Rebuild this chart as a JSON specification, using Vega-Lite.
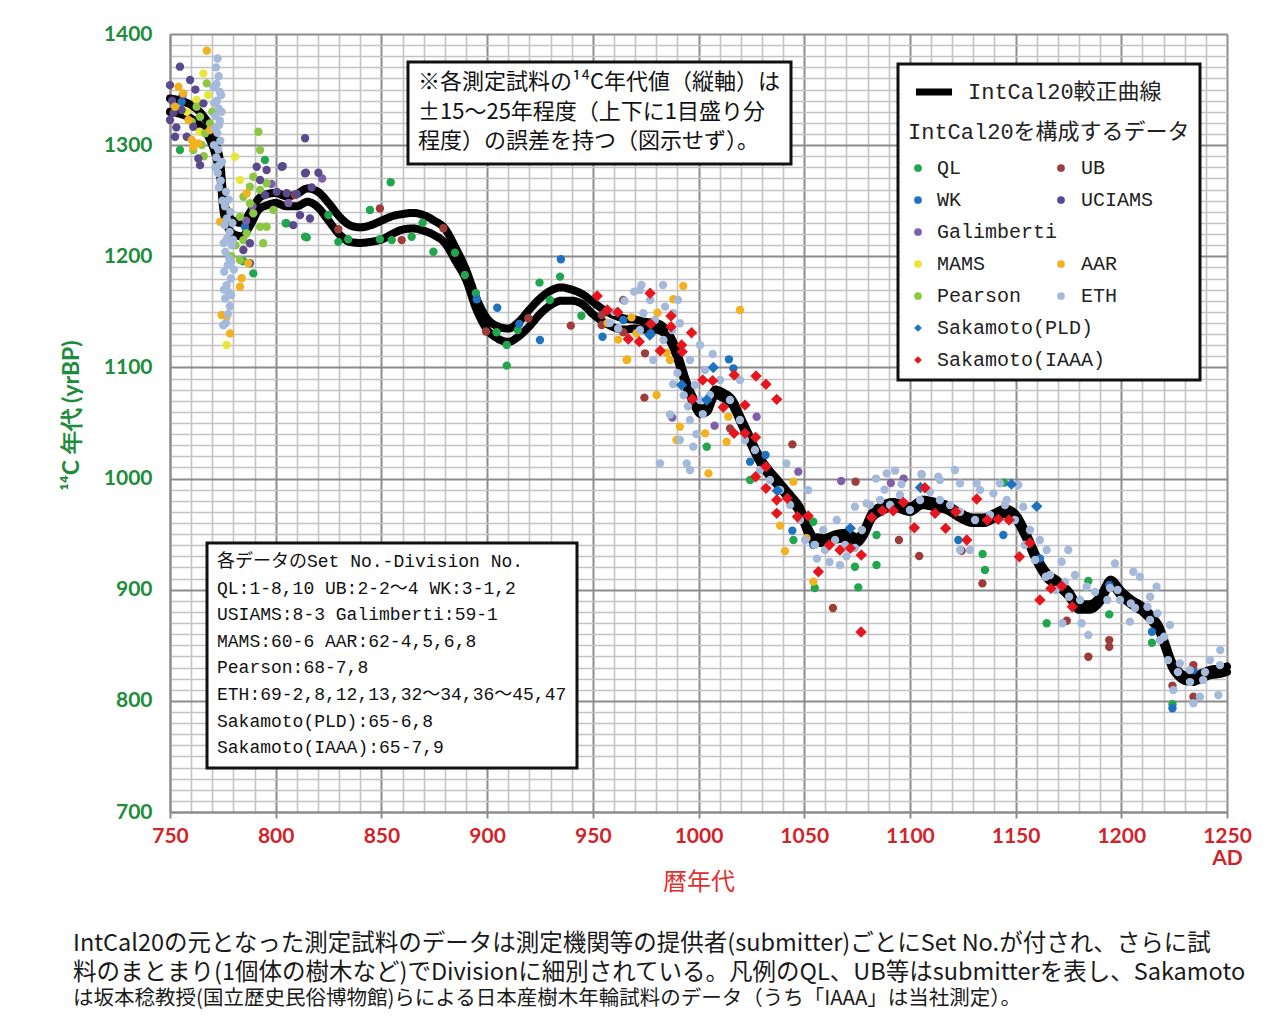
{
  "$schema": "https://vega.github.io/schema/vega-lite/v6.json",
  "width": 1057,
  "height": 778,
  "autosize": "none",
  "padding": {"left": 170, "top": 34, "right": 54, "bottom": 214},
  "background": "white",
  "title": {
    "text": [
      "IntCal20の元となった測定試料のデータは測定機関等の提供者(submitter)ごとにSet No.が付され、さらに試",
      "料のまとまり(1個体の樹木など)でDivisionに細別されている。凡例のQL、UB等はsubmitterを表し、Sakamoto"
    ],
    "subtitle": "は坂本稔教授(国立歴史民俗博物館)らによる日本産樹木年輪試料のデータ（うち「IAAA」は当社測定）。",
    "orient": "bottom", "anchor": "start", "frame": "group", "dx": -97, "offset": 38,
    "font": "Noto Sans CJK JP", "fontSize": 23.5, "fontWeight": "normal", "color": "#1a1a1a", "lineHeight": 29,
    "subtitleFont": "Noto Sans CJK JP", "subtitleFontSize": 20.5, "subtitleColor": "#1a1a1a", "subtitlePadding": 4, "subtitleLineHeight": 29
  },
  "datasets": {
    "curve": [
      {"x":750,"hi":1342,"lo":1330},{"x":755,"hi":1340,"lo":1328},{"x":760,"hi":1336,"lo":1324},{"x":765,"hi":1328,"lo":1316},
      {"x":770,"hi":1312,"lo":1300},{"x":772,"hi":1300,"lo":1288},{"x":774,"hi":1280,"lo":1268},{"x":775,"hi":1258,"lo":1246},
      {"x":777,"hi":1240,"lo":1228},{"x":780,"hi":1232,"lo":1220},{"x":784,"hi":1230,"lo":1218},{"x":788,"hi":1240,"lo":1228},
      {"x":792,"hi":1252,"lo":1242},{"x":796,"hi":1256,"lo":1246},{"x":800,"hi":1257,"lo":1248},{"x":805,"hi":1254,"lo":1245},
      {"x":810,"hi":1256,"lo":1245},{"x":815,"hi":1261,"lo":1249},{"x":820,"hi":1258,"lo":1244},{"x":825,"hi":1248,"lo":1232},
      {"x":830,"hi":1236,"lo":1220},{"x":835,"hi":1228,"lo":1213},{"x":840,"hi":1226,"lo":1212},{"x":845,"hi":1228,"lo":1213},
      {"x":850,"hi":1232,"lo":1215},{"x":855,"hi":1236,"lo":1220},{"x":860,"hi":1238,"lo":1224},{"x":865,"hi":1239,"lo":1225},
      {"x":870,"hi":1237,"lo":1223},{"x":875,"hi":1232,"lo":1219},{"x":880,"hi":1225,"lo":1212},{"x":885,"hi":1208,"lo":1196},
      {"x":890,"hi":1188,"lo":1179},{"x":895,"hi":1162,"lo":1152},{"x":900,"hi":1144,"lo":1134},{"x":905,"hi":1137,"lo":1126},
      {"x":910,"hi":1135,"lo":1123},{"x":915,"hi":1141,"lo":1128},{"x":920,"hi":1152,"lo":1137},{"x":925,"hi":1162,"lo":1148},
      {"x":930,"hi":1169,"lo":1156},{"x":935,"hi":1172,"lo":1160},{"x":940,"hi":1170,"lo":1160},{"x":945,"hi":1166,"lo":1157},
      {"x":950,"hi":1159,"lo":1148},{"x":955,"hi":1152,"lo":1141},{"x":960,"hi":1147,"lo":1136},{"x":965,"hi":1144,"lo":1134},
      {"x":970,"hi":1143,"lo":1135},{"x":975,"hi":1141,"lo":1134},{"x":980,"hi":1140,"lo":1134},{"x":985,"hi":1133,"lo":1128},
      {"x":988,"hi":1123,"lo":1118},{"x":991,"hi":1107,"lo":1102},{"x":994,"hi":1089,"lo":1084},{"x":998,"hi":1071,"lo":1066},
      {"x":1001,"hi":1063,"lo":1058},{"x":1004,"hi":1065,"lo":1060},{"x":1008,"hi":1080,"lo":1075},{"x":1012,"hi":1077,"lo":1072},
      {"x":1016,"hi":1071,"lo":1066},{"x":1020,"hi":1055,"lo":1050},{"x":1024,"hi":1039,"lo":1034},{"x":1028,"hi":1023,"lo":1018},
      {"x":1032,"hi":1011,"lo":1006},{"x":1036,"hi":1002,"lo":997},{"x":1040,"hi":993,"lo":988},{"x":1044,"hi":984,"lo":979},
      {"x":1048,"hi":974,"lo":969},{"x":1052,"hi":955,"lo":950},{"x":1055,"hi":947,"lo":942},{"x":1060,"hi":947,"lo":942},
      {"x":1065,"hi":950,"lo":945},{"x":1070,"hi":951,"lo":946},{"x":1075,"hi":947,"lo":942},{"x":1078,"hi":953,"lo":948},
      {"x":1082,"hi":969,"lo":964},{"x":1086,"hi":975,"lo":970},{"x":1092,"hi":979,"lo":974},{"x":1100,"hi":975,"lo":970},
      {"x":1106,"hi":981,"lo":976},{"x":1112,"hi":979,"lo":974},{"x":1118,"hi":976,"lo":971},{"x":1124,"hi":969,"lo":964},
      {"x":1130,"hi":965,"lo":960},{"x":1135,"hi":965,"lo":960},{"x":1140,"hi":969,"lo":964},{"x":1145,"hi":973,"lo":968},
      {"x":1150,"hi":968,"lo":963},{"x":1155,"hi":951,"lo":946},{"x":1160,"hi":930,"lo":925},{"x":1165,"hi":915,"lo":910},
      {"x":1170,"hi":908,"lo":903},{"x":1175,"hi":899,"lo":894},{"x":1180,"hi":887,"lo":882},{"x":1185,"hi":887,"lo":882},
      {"x":1190,"hi":894,"lo":889},{"x":1195,"hi":909,"lo":904},{"x":1200,"hi":899,"lo":894},{"x":1205,"hi":891,"lo":886},
      {"x":1210,"hi":885,"lo":880},{"x":1215,"hi":875,"lo":870},{"x":1218,"hi":867,"lo":862},{"x":1221,"hi":851,"lo":846},
      {"x":1224,"hi":835,"lo":830},{"x":1227,"hi":827,"lo":822},{"x":1230,"hi":823,"lo":818},{"x":1234,"hi":822,"lo":817},
      {"x":1238,"hi":825,"lo":820},{"x":1242,"hi":828,"lo":823},{"x":1246,"hi":829,"lo":824},{"x":1250,"hi":831,"lo":826}
    ],
    "pts": [
      {"s":"QL","x":754.7,"y":1295.6},{"s":"QL","x":794.9,"y":1286.6},{"s":"QL","x":789.4,"y":1184.6},{"s":"QL","x":784.7,"y":1195.6},
      {"s":"QL","x":805.1,"y":1229.7},{"s":"QL","x":813.9,"y":1217.6},{"s":"QL","x":854.4,"y":1266.6},{"s":"QL","x":844.6,"y":1241.6},
      {"s":"QL","x":829.6,"y":1213},{"s":"QL","x":834.3,"y":1215.3},{"s":"QL","x":849.3,"y":1215.3},{"s":"QL","x":854.9,"y":1214.6},
      {"s":"QL","x":864.3,"y":1217.6},{"s":"QL","x":824.9,"y":1237.1},{"s":"QL","x":814.7,"y":1217},{"s":"QL","x":804.7,"y":1229.7},
      {"s":"QL","x":869.5,"y":1230.2},{"s":"QL","x":874.6,"y":1204.1},{"s":"QL","x":884.8,"y":1203.2},{"s":"QL","x":889.5,"y":1183.2},
      {"s":"QL","x":894.7,"y":1166.7},{"s":"QL","x":904.5,"y":1131.6},{"s":"QL","x":909.3,"y":1120.2},{"s":"QL","x":909.3,"y":1101.6},
      {"s":"QL","x":914.5,"y":1133.6},{"s":"QL","x":924.8,"y":1176.3},{"s":"QL","x":929.7,"y":1160.7},{"s":"QL","x":934.5,"y":1181.7},
      {"s":"QL","x":944.6,"y":1146.5},{"s":"QL","x":1003.9,"y":1028.7},{"s":"QL","x":1024.4,"y":998.7},{"s":"QL","x":1044.9,"y":944.7},
      {"s":"QL","x":1054.3,"y":961.2},{"s":"QL","x":1074,"y":920.7},{"s":"QL","x":1075.6,"y":902.1},{"s":"QL","x":1084.2,"y":949.2},
      {"s":"QL","x":1084.2,"y":922.2},{"s":"QL","x":1134.4,"y":932.1},{"s":"QL","x":1135.5,"y":917.7},{"s":"QL","x":1144.5,"y":996.3},
      {"s":"QL","x":1164.7,"y":869.8},{"s":"QL","x":1184.4,"y":907.8},{"s":"QL","x":1194.3,"y":877.8},{"s":"QL","x":1214.5,"y":852.3},
      {"s":"QL","x":1224.2,"y":797},{"s":"QL","x":1055,"y":901.5},
      {"s":"UB","x":809.1,"y":1255.1},{"s":"UB","x":829.6,"y":1224.3},{"s":"UB","x":849.3,"y":1243},{"s":"UB","x":859.6,"y":1214.6},
      {"s":"UB","x":879.3,"y":1225.2},{"s":"UB","x":899.5,"y":1132.3},{"s":"UB","x":919.5,"y":1144.2},{"s":"UB","x":939.6,"y":1137.6},
      {"s":"UB","x":954.2,"y":1147.2},{"s":"UB","x":964.4,"y":1160.7},{"s":"UB","x":954.2,"y":1138.2},{"s":"UB","x":964.4,"y":1131.6},
      {"s":"UB","x":974.7,"y":1112.7},{"s":"UB","x":974.4,"y":1072.8},{"s":"UB","x":1014.9,"y":1045.2},{"s":"UB","x":1044.4,"y":1030.8},
      {"s":"UB","x":1094.8,"y":944.7},{"s":"UB","x":1104.4,"y":930.3},{"s":"UB","x":1074.3,"y":997.2},{"s":"UB","x":1063.6,"y":883.5},
      {"s":"UB","x":1124.5,"y":935.1},{"s":"UB","x":1134.3,"y":905.7},{"s":"UB","x":1174.2,"y":872.1},{"s":"UB","x":1184.4,"y":839.7},
      {"s":"UB","x":1194.3,"y":854.7},{"s":"UB","x":1194.3,"y":848.7},{"s":"UB","x":1224.2,"y":813.7},{"s":"UB","x":1234.1,"y":832.2},
      {"s":"UB","x":1234.1,"y":803.7},
      {"s":"WK","x":895.1,"y":1161.3},{"s":"WK","x":904.8,"y":1153.7},{"s":"WK","x":915.2,"y":1139.1},{"s":"WK","x":925,"y":1124.7},
      {"s":"WK","x":934.9,"y":1197.3},{"s":"WK","x":954.6,"y":1127.6},{"s":"WK","x":964.4,"y":1142.7},{"s":"WK","x":977.4,"y":1130.7},
      {"s":"WK","x":1014.4,"y":1107.3},{"s":"WK","x":1016.5,"y":1099.2},{"s":"WK","x":1031.7,"y":1021.2},{"s":"WK","x":1024.4,"y":1015.2},
      {"s":"WK","x":1044.4,"y":953.2},{"s":"WK","x":1054.3,"y":940.2},{"s":"WK","x":1144.2,"y":949.2},{"s":"WK","x":1161.5,"y":928.2},
      {"s":"WK","x":1194.3,"y":904.2},{"s":"WK","x":1214.5,"y":862.2},{"s":"WK","x":1224.2,"y":793.3},{"s":"WK","x":1234.1,"y":827.7},
      {"s":"WK","x":755.5,"y":1339},{"s":"WK","x":785.5,"y":1226.6},{"s":"WK","x":1122.9,"y":944.7},
      {"s":"UCIAMS","x":754.7,"y":1370.6},{"s":"UCIAMS","x":750,"y":1354},{"s":"UCIAMS","x":751.6,"y":1329},{"s":"UCIAMS","x":750,"y":1322.6},
      {"s":"UCIAMS","x":752.4,"y":1307.6},{"s":"UCIAMS","x":757.9,"y":1307.6},{"s":"UCIAMS","x":763.4,"y":1288},{"s":"UCIAMS","x":764.2,"y":1282},
      {"s":"UCIAMS","x":761,"y":1316.6},{"s":"UCIAMS","x":755.5,"y":1331.6},{"s":"UCIAMS","x":759.5,"y":1358.6},{"s":"UCIAMS","x":765.8,"y":1337.6},
      {"s":"UCIAMS","x":791,"y":1280.6},{"s":"UCIAMS","x":795.7,"y":1277.6},{"s":"UCIAMS","x":802.8,"y":1280.6},{"s":"UCIAMS","x":813.9,"y":1306.2},
      {"s":"UCIAMS","x":813.9,"y":1274.7},{"s":"UCIAMS","x":792.6,"y":1268.6},{"s":"UCIAMS","x":787.8,"y":1211.7},{"s":"UCIAMS","x":784.7,"y":1205.7},
      {"s":"UCIAMS","x":787.8,"y":1193.7},{"s":"UCIAMS","x":803.3,"y":1281},{"s":"UCIAMS","x":814.3,"y":1275.2},{"s":"UCIAMS","x":820.2,"y":1275.2},
      {"s":"UCIAMS","x":808.3,"y":1228},{"s":"UCIAMS","x":816.2,"y":1234},{"s":"UCIAMS","x":811.5,"y":1237},{"s":"UCIAMS","x":805.2,"y":1256.7},
      {"s":"UCIAMS","x":800.5,"y":1258},{"s":"UCIAMS","x":810,"y":1256},{"s":"UCIAMS","x":817,"y":1262},{"s":"UCIAMS","x":795,"y":1255},
      {"s":"UCIAMS","x":751,"y":1340},{"s":"UCIAMS","x":753,"y":1316},{"s":"UCIAMS","x":756,"y":1345},{"s":"UCIAMS","x":762,"y":1350},
      {"s":"Galimberti","x":987.6,"y":1054.8},{"s":"Galimberti","x":1007.6,"y":1047.6},{"s":"Galimberti","x":1027.5,"y":1055.6},{"s":"Galimberti","x":1047.2,"y":1006.2},
      {"s":"Galimberti","x":1067.5,"y":997.8},{"s":"Galimberti","x":798,"y":1265},{"s":"Galimberti","x":806,"y":1248},{"s":"Galimberti","x":822,"y":1270},
      {"s":"Galimberti","x":789,"y":1245},{"s":"Galimberti","x":786,"y":1232},{"s":"Galimberti","x":1097,"y":1000},{"s":"Galimberti","x":1091,"y":996},
      {"s":"MAMS","x":765.8,"y":1364.6},{"s":"MAMS","x":762.6,"y":1340.6},{"s":"MAMS","x":780.7,"y":1289.6},{"s":"MAMS","x":783.1,"y":1268.6},
      {"s":"MAMS","x":776.8,"y":1120.2},{"s":"MAMS","x":758,"y":1330},{"s":"MAMS","x":764,"y":1312},{"s":"MAMS","x":768,"y":1345},
      {"s":"AAR","x":767.4,"y":1385},{"s":"AAR","x":754,"y":1352.6},{"s":"AAR","x":756.3,"y":1346.6},{"s":"AAR","x":752.4,"y":1334.6},
      {"s":"AAR","x":758.7,"y":1322.6},{"s":"AAR","x":760.3,"y":1304.6},{"s":"AAR","x":763.4,"y":1301.6},{"s":"AAR","x":768.9,"y":1313.6},
      {"s":"AAR","x":761,"y":1298.6},{"s":"AAR","x":786.3,"y":1256.7},{"s":"AAR","x":787,"y":1193.7},{"s":"AAR","x":783.9,"y":1180.2},
      {"s":"AAR","x":783.1,"y":1172.6},{"s":"AAR","x":774.4,"y":1147.2},{"s":"AAR","x":776.8,"y":1145.6},{"s":"AAR","x":778.4,"y":1130.6},
      {"s":"AAR","x":773.7,"y":1231},{"s":"AAR","x":992.8,"y":1173.3},{"s":"AAR","x":988.1,"y":1161.3},{"s":"AAR","x":968.3,"y":1145},
      {"s":"AAR","x":966.3,"y":1107.1},{"s":"AAR","x":970.7,"y":1130.7},{"s":"AAR","x":980.6,"y":1149.2},{"s":"AAR","x":985,"y":1113.2},
      {"s":"AAR","x":986.5,"y":1106.7},{"s":"AAR","x":966,"y":1106.7},{"s":"AAR","x":980.2,"y":1075.2},{"s":"AAR","x":991.2,"y":1046.7},
      {"s":"AAR","x":1003.1,"y":1040.7},{"s":"AAR","x":1004.7,"y":1004.7},{"s":"AAR","x":1013.3,"y":1033.2},{"s":"AAR","x":1014.1,"y":1055.6},
      {"s":"AAR","x":1019.6,"y":1151.7},{"s":"AAR","x":989.6,"y":1034.7},{"s":"AAR","x":1044.9,"y":997.2},{"s":"AAR","x":1038.6,"y":957.7},
      {"s":"AAR","x":1040.9,"y":934.7},{"s":"AAR","x":1051.1,"y":946.3},{"s":"AAR","x":1054.3,"y":907.3},{"s":"AAR","x":957,"y":1140},
      {"s":"AAR","x":962,"y":1125},
      {"s":"Pearson","x":767.4,"y":1355.6},{"s":"Pearson","x":762.6,"y":1334.6},{"s":"Pearson","x":764.2,"y":1325.6},{"s":"Pearson","x":760.3,"y":1321},
      {"s":"Pearson","x":768.9,"y":1319.6},{"s":"Pearson","x":766.6,"y":1310.6},{"s":"Pearson","x":765,"y":1300.1},{"s":"Pearson","x":761,"y":1295.6},
      {"s":"Pearson","x":791.8,"y":1312},{"s":"Pearson","x":792.6,"y":1295.6},{"s":"Pearson","x":789.4,"y":1271.6},{"s":"Pearson","x":787.8,"y":1262.6},
      {"s":"Pearson","x":784.7,"y":1253.6},{"s":"Pearson","x":792.6,"y":1259.6},{"s":"Pearson","x":795.7,"y":1265.7},{"s":"Pearson","x":798.9,"y":1241.6},
      {"s":"Pearson","x":792.6,"y":1226.6},{"s":"Pearson","x":795.7,"y":1226.6},{"s":"Pearson","x":794.1,"y":1211.7},{"s":"Pearson","x":786.3,"y":1220.7},
      {"s":"Pearson","x":784.7,"y":1214.6},{"s":"Pearson","x":783.1,"y":1196.6},{"s":"Pearson","x":787.8,"y":1247.7},{"s":"Pearson","x":789.4,"y":1238.7},
      {"s":"Pearson","x":783.1,"y":1235.6},{"s":"Pearson","x":770,"y":1330},{"s":"Pearson","x":766,"y":1290},{"s":"Pearson","x":779,"y":1200},
      {"s":"Pearson","x":781,"y":1210},
      {"s":"ETH","x":772.5,"y":1378},{"s":"ETH","x":771.8,"y":1370},{"s":"ETH","x":773,"y":1362},{"s":"ETH","x":772,"y":1355},
      {"s":"ETH","x":773.5,"y":1348},{"s":"ETH","x":772.2,"y":1340},{"s":"ETH","x":773,"y":1333},{"s":"ETH","x":771.5,"y":1326},
      {"s":"ETH","x":773.2,"y":1318},{"s":"ETH","x":772.4,"y":1311},{"s":"ETH","x":773.8,"y":1304},{"s":"ETH","x":772.8,"y":1296},
      {"s":"ETH","x":771.9,"y":1289},{"s":"ETH","x":773.4,"y":1282},{"s":"ETH","x":772.6,"y":1275},{"s":"ETH","x":774,"y":1268},
      {"s":"ETH","x":773.1,"y":1262},{"s":"ETH","x":770.6,"y":1352},{"s":"ETH","x":774.4,"y":1330},{"s":"ETH","x":770.8,"y":1300},
      {"s":"ETH","x":774.6,"y":1285},{"s":"ETH","x":771.2,"y":1315},{"s":"ETH","x":774.2,"y":1345},{"s":"ETH","x":770.9,"y":1338},
      {"s":"ETH","x":773.6,"y":1322},{"s":"ETH","x":771.4,"y":1280},
      {"s":"ETH","x":776.5,"y":1258},{"s":"ETH","x":777.8,"y":1251},{"s":"ETH","x":776,"y":1245},{"s":"ETH","x":778.6,"y":1240},
      {"s":"ETH","x":776.9,"y":1234},{"s":"ETH","x":775.8,"y":1228},{"s":"ETH","x":778.2,"y":1222},{"s":"ETH","x":777,"y":1216},
      {"s":"ETH","x":779.2,"y":1210},{"s":"ETH","x":776.2,"y":1204},{"s":"ETH","x":778,"y":1198},{"s":"ETH","x":777.3,"y":1192},
      {"s":"ETH","x":775.6,"y":1186},{"s":"ETH","x":778.8,"y":1180},{"s":"ETH","x":776.8,"y":1174},{"s":"ETH","x":777.6,"y":1168},
      {"s":"ETH","x":776.1,"y":1162},{"s":"ETH","x":778.3,"y":1155},{"s":"ETH","x":777.4,"y":1148},{"s":"ETH","x":776.5,"y":1140},
      {"s":"ETH","x":775.2,"y":1138},{"s":"ETH","x":779.5,"y":1230},{"s":"ETH","x":775.4,"y":1212},{"s":"ETH","x":779,"y":1195},
      {"s":"ETH","x":775.5,"y":1170},{"s":"ETH","x":778.9,"y":1165},{"s":"ETH","x":774.8,"y":1250},{"s":"ETH","x":779.8,"y":1215},
      {"s":"ETH","x":780.2,"y":1188},
      {"s":"ETH","x":973,"y":1174.2},{"s":"ETH","x":969.5,"y":1168.2},{"s":"ETH","x":973.9,"y":1148.7},{"s":"ETH","x":984.2,"y":1154.7},
      {"s":"ETH","x":988.1,"y":1148.7},{"s":"ETH","x":991.2,"y":1139.7},{"s":"ETH","x":1006.7,"y":1112.1},{"s":"ETH","x":978.6,"y":1106.7},
      {"s":"ETH","x":983.4,"y":1124.7},{"s":"ETH","x":972.3,"y":1169.7},{"s":"ETH","x":977.1,"y":1160.7},{"s":"ETH","x":979.4,"y":1142.7},
      {"s":"ETH","x":987.5,"y":1133.7},{"s":"ETH","x":990.3,"y":1160.7},{"s":"ETH","x":983.2,"y":1174.2},{"s":"ETH","x":972.3,"y":1133.7},
      {"s":"ETH","x":996,"y":1106.7},{"s":"ETH","x":1000.7,"y":1120.2},{"s":"ETH","x":1003.1,"y":1097.7},{"s":"ETH","x":996,"y":1007.7},
      {"s":"ETH","x":994.4,"y":1013.7},{"s":"ETH","x":986.5,"y":1057.6},{"s":"ETH","x":997.5,"y":1028.7},{"s":"ETH","x":1019.6,"y":1088.7},
      {"s":"ETH","x":981.8,"y":1013.7},{"s":"ETH","x":960,"y":1150},{"s":"ETH","x":965,"y":1160},{"s":"ETH","x":990,"y":1095},
      {"s":"ETH","x":993,"y":1075},{"s":"ETH","x":995,"y":1065},{"s":"ETH","x":988,"y":1085},{"s":"ETH","x":999,"y":1040},
      {"s":"ETH","x":1002,"y":1058},{"s":"ETH","x":958,"y":1140},{"s":"ETH","x":962,"y":1135},
      {"s":"ETH","x":1041.6,"y":1013.7},{"s":"ETH","x":1051.9,"y":989.6},{"s":"ETH","x":1074,"y":974.7},{"s":"ETH","x":1079.5,"y":977.7},
      {"s":"ETH","x":1089,"y":1004.7},{"s":"ETH","x":1093,"y":1007.1},{"s":"ETH","x":1105.5,"y":1004.1},{"s":"ETH","x":1113.4,"y":1001.7},
      {"s":"ETH","x":1066.9,"y":922.2},{"s":"ETH","x":1059,"y":953.7},{"s":"ETH","x":1065.4,"y":962.7},
      {"s":"ETH","x":991.2,"y":1034.7},{"s":"ETH","x":995.9,"y":1052.7},{"s":"ETH","x":1000.7,"y":1070.7},{"s":"ETH","x":998.3,"y":1084.2},
      {"s":"ETH","x":1005.4,"y":1075.2},{"s":"ETH","x":1010.2,"y":1088.7},{"s":"ETH","x":1014.9,"y":1070.7},{"s":"ETH","x":1019.6,"y":1052.7},
      {"s":"ETH","x":1022,"y":1034.7},{"s":"ETH","x":1026.7,"y":1025.7},{"s":"ETH","x":1029.1,"y":1007.7},{"s":"ETH","x":1033.8,"y":998.7},
      {"s":"ETH","x":1038.6,"y":989.7},{"s":"ETH","x":1043.3,"y":976.2},{"s":"ETH","x":1048,"y":962.7},{"s":"ETH","x":1050.4,"y":944.7},
      {"s":"ETH","x":1055.1,"y":940.2},{"s":"ETH","x":1059.8,"y":935.7},{"s":"ETH","x":1064.6,"y":944.7},{"s":"ETH","x":1069.3,"y":940.2},
      {"s":"ETH","x":1074,"y":937.5},{"s":"ETH","x":1077.3,"y":953.7},{"s":"ETH","x":1081.1,"y":976.2},{"s":"ETH","x":1085.9,"y":980.7},
      {"s":"ETH","x":1090.6,"y":976.2},{"s":"ETH","x":1095.3,"y":985.2},{"s":"ETH","x":1100,"y":971.7},{"s":"ETH","x":1104.8,"y":980.7},
      {"s":"ETH","x":1109.5,"y":987.9},{"s":"ETH","x":1114.2,"y":980.7},{"s":"ETH","x":1119,"y":976.2},{"s":"ETH","x":1123.7,"y":970.1},
      {"s":"ETH","x":1130.8,"y":962.7},{"s":"ETH","x":1137.9,"y":967.2},{"s":"ETH","x":1145,"y":976.2},{"s":"ETH","x":1149.7,"y":962.7},
      {"s":"ETH","x":1154.4,"y":940.2},{"s":"ETH","x":1159.2,"y":926.7},{"s":"ETH","x":1166.3,"y":913.2},{"s":"ETH","x":1173.4,"y":906.9},
      {"s":"ETH","x":1180.5,"y":890.7},{"s":"ETH","x":1187.6,"y":897.9},{"s":"ETH","x":1194.7,"y":901.5},{"s":"ETH","x":1199.4,"y":890.7},
      {"s":"ETH","x":1206.5,"y":883.5},{"s":"ETH","x":1213.6,"y":872.7},{"s":"ETH","x":1218.3,"y":854.7},{"s":"ETH","x":1222.1,"y":836.7},
      {"s":"ETH","x":1226.8,"y":825.9},{"s":"ETH","x":1232.5,"y":816.9},{"s":"ETH","x":1239.6,"y":825.9},{"s":"ETH","x":1246.7,"y":832.2},
      {"s":"ETH","x":1105.6,"y":1003.2},{"s":"ETH","x":1121.3,"y":1007.7},{"s":"ETH","x":1131.6,"y":995.7},{"s":"ETH","x":1142.6,"y":995.7},
      {"s":"ETH","x":1151.3,"y":994.2},{"s":"ETH","x":1153.6,"y":974.7},{"s":"ETH","x":1156.8,"y":953.7},{"s":"ETH","x":1161.5,"y":944.7},
      {"s":"ETH","x":1164.7,"y":935.7},{"s":"ETH","x":1174.9,"y":935.7},{"s":"ETH","x":1171.8,"y":925.2},{"s":"ETH","x":1178.1,"y":913.2},
      {"s":"ETH","x":1183.6,"y":902.7},{"s":"ETH","x":1197,"y":923.7},{"s":"ETH","x":1205.7,"y":916.2},{"s":"ETH","x":1208.8,"y":911.7},
      {"s":"ETH","x":1216.7,"y":902.7},{"s":"ETH","x":1223,"y":868.3},{"s":"ETH","x":1213.6,"y":893.7},{"s":"ETH","x":1204.1,"y":871.3},
      {"s":"ETH","x":1181.2,"y":869.8},{"s":"ETH","x":1184.4,"y":859.3},{"s":"ETH","x":1172.1,"y":869.8},{"s":"ETH","x":1246.8,"y":845.7},
      {"s":"ETH","x":1245.9,"y":805.2},{"s":"ETH","x":1234.1,"y":797.8},{"s":"ETH","x":1237.2,"y":803.7},{"s":"ETH","x":1224.6,"y":809.7},
      {"s":"ETH","x":1227.7,"y":833.7},{"s":"ETH","x":1241.9,"y":836.7},{"s":"ETH","x":1232.4,"y":827.7},{"s":"ETH","x":1238.7,"y":818.7},
      {"s":"ETH","x":1123.7,"y":935.7},{"s":"ETH","x":1128.4,"y":935.7},{"s":"ETH","x":1114.2,"y":998.7},{"s":"ETH","x":1123.7,"y":995.7},
      {"s":"ETH","x":1133.2,"y":989.7},{"s":"ETH","x":1139.5,"y":986.7},{"s":"ETH","x":1145.8,"y":980.7},{"s":"ETH","x":1164.3,"y":911.7},
      {"s":"ETH","x":1169,"y":899.7},{"s":"ETH","x":1175.3,"y":893.7},{"s":"ETH","x":1193.4,"y":890.7},{"s":"ETH","x":1198.2,"y":899.7},
      {"s":"ETH","x":1204.5,"y":887.7},{"s":"ETH","x":1212.4,"y":884.7},{"s":"ETH","x":1217.1,"y":878.7},{"s":"ETH","x":1220.3,"y":857.7},
      {"s":"ETH","x":1084,"y":1000},{"s":"ETH","x":1096,"y":995},{"s":"ETH","x":1088,"y":990},{"s":"ETH","x":1056,"y":928},
      {"s":"ETH","x":1062,"y":925},{"s":"ETH","x":1070,"y":930},
      {"s":"Sakamoto(PLD)","x":992,"y":1084.2},{"s":"Sakamoto(PLD)","x":977,"y":1129.2},{"s":"Sakamoto(PLD)","x":1003.9,"y":1070.7},
      {"s":"Sakamoto(PLD)","x":1037.3,"y":989.1},{"s":"Sakamoto(PLD)","x":1071.8,"y":955.2},{"s":"Sakamoto(PLD)","x":1007,"y":1100},
      {"s":"Sakamoto(PLD)","x":1105,"y":992},{"s":"Sakamoto(PLD)","x":1148,"y":995},{"s":"Sakamoto(PLD)","x":1160,"y":975},
      {"s":"Sakamoto(IAAA)","x":952.1,"y":1164.3},{"s":"Sakamoto(IAAA)","x":956.9,"y":1151.7},{"s":"Sakamoto(IAAA)","x":961.8,"y":1149.6},
      {"s":"Sakamoto(IAAA)","x":966.8,"y":1125.6},{"s":"Sakamoto(IAAA)","x":972,"y":1123.2},{"s":"Sakamoto(IAAA)","x":977.1,"y":1166.7},
      {"s":"Sakamoto(IAAA)","x":977.4,"y":1139.1},{"s":"Sakamoto(IAAA)","x":981.9,"y":1115},{"s":"Sakamoto(IAAA)","x":987,"y":1146.3},
      {"s":"Sakamoto(IAAA)","x":992,"y":1120.2},{"s":"Sakamoto(IAAA)","x":996.7,"y":1131.2},{"s":"Sakamoto(IAAA)","x":1002,"y":1088.7},
      {"s":"Sakamoto(IAAA)","x":1006.7,"y":1088.1},{"s":"Sakamoto(IAAA)","x":987,"y":1136.6},{"s":"Sakamoto(IAAA)","x":992.3,"y":1114.2},
      {"s":"Sakamoto(IAAA)","x":997.1,"y":1071.6},{"s":"Sakamoto(IAAA)","x":1011.7,"y":1064.1},{"s":"Sakamoto(IAAA)","x":1016.9,"y":1093.2},
      {"s":"Sakamoto(IAAA)","x":1027.2,"y":1092.3},{"s":"Sakamoto(IAAA)","x":1031.9,"y":1084.8},{"s":"Sakamoto(IAAA)","x":1037,"y":1071.3},
      {"s":"Sakamoto(IAAA)","x":1022,"y":1066.1},{"s":"Sakamoto(IAAA)","x":1016.8,"y":1040.7},{"s":"Sakamoto(IAAA)","x":1022,"y":1040.7},
      {"s":"Sakamoto(IAAA)","x":1027,"y":1037.1},{"s":"Sakamoto(IAAA)","x":1031.9,"y":1010.7},{"s":"Sakamoto(IAAA)","x":1027,"y":1001.7},
      {"s":"Sakamoto(IAAA)","x":1031.9,"y":991.2},{"s":"Sakamoto(IAAA)","x":1037,"y":980.7},{"s":"Sakamoto(IAAA)","x":1042,"y":982.2},
      {"s":"Sakamoto(IAAA)","x":1037,"y":968.7},{"s":"Sakamoto(IAAA)","x":1046.8,"y":965.7},{"s":"Sakamoto(IAAA)","x":1051.9,"y":966.3},
      {"s":"Sakamoto(IAAA)","x":1056.7,"y":916.2},{"s":"Sakamoto(IAAA)","x":1061.9,"y":940.2},{"s":"Sakamoto(IAAA)","x":1066.9,"y":935.7},
      {"s":"Sakamoto(IAAA)","x":1071.8,"y":937.2},{"s":"Sakamoto(IAAA)","x":1077,"y":931.2},{"s":"Sakamoto(IAAA)","x":1081.9,"y":965.1},
      {"s":"Sakamoto(IAAA)","x":1087,"y":971.1},{"s":"Sakamoto(IAAA)","x":1092.1,"y":971.1},{"s":"Sakamoto(IAAA)","x":1096.9,"y":978.6},
      {"s":"Sakamoto(IAAA)","x":1102.1,"y":955.8},{"s":"Sakamoto(IAAA)","x":1107.1,"y":991.8},{"s":"Sakamoto(IAAA)","x":1111.9,"y":968.7},
      {"s":"Sakamoto(IAAA)","x":1116.9,"y":955.2},{"s":"Sakamoto(IAAA)","x":1121.7,"y":970.2},{"s":"Sakamoto(IAAA)","x":1126.9,"y":944.7},
      {"s":"Sakamoto(IAAA)","x":1131.6,"y":981.6},{"s":"Sakamoto(IAAA)","x":1136.6,"y":962.7},{"s":"Sakamoto(IAAA)","x":1141.8,"y":963.3},
      {"s":"Sakamoto(IAAA)","x":1146.9,"y":962.7},{"s":"Sakamoto(IAAA)","x":1156.8,"y":942},{"s":"Sakamoto(IAAA)","x":1151.8,"y":929.7},
      {"s":"Sakamoto(IAAA)","x":1161.5,"y":890.7},{"s":"Sakamoto(IAAA)","x":1166.7,"y":901.2},{"s":"Sakamoto(IAAA)","x":1171.8,"y":903.3},
      {"s":"Sakamoto(IAAA)","x":1176.8,"y":884.7},{"s":"Sakamoto(IAAA)","x":1076.9,"y":862}
    ]
  },
  "encoding": {
    "x": {"field": "x", "type": "quantitative",
      "scale": {"domain": [750, 1250], "nice": false, "zero": false},
      "axis": {
        "values": [750,760,770,780,790,800,810,820,830,840,850,860,870,880,890,900,910,920,930,940,950,960,970,980,990,1000,1010,1020,1030,1040,1050,1060,1070,1080,1090,1100,1110,1120,1130,1140,1150,1160,1170,1180,1190,1200,1210,1220,1230,1240,1250],
        "format": "d",
        "grid": true,
        "gridColor": {"condition": {"test": "datum.value % 50 === 0", "value": "#8c8c8c"}, "value": "#c3c3c3"},
        "gridWidth": {"condition": {"test": "datum.value % 50 === 0", "value": 2}, "value": 1.6},
        "domainColor": "#8c8c8c", "domainWidth": 2,
        "tickColor": "#8c8c8c", "tickWidth": 2, "tickSize": 6,
        "tickOpacity": {"condition": {"test": "datum.value % 50 === 0", "value": 1}, "value": 0},
        "labelExpr": "datum.value % 50 === 0 ? (datum.value === 1250 ? ['1250', 'AD'] : datum.label) : ''",
        "labelFont": "Lato", "labelFontSize": 21, "labelFontWeight": "bold", "labelColor": "#d2232a",
        "labelPadding": 7, "labelOverlap": false, "labelFlush": false, "labelLineHeight": 22,
        "title": "暦年代", "titleFont": "Noto Sans CJK JP", "titleFontSize": 24, "titleFontWeight": "normal",
        "titleColor": "#e0302f", "titlePadding": 2
      }
    },
    "y": {"field": "y", "type": "quantitative",
      "scale": {"domain": [700, 1400], "nice": false, "zero": false},
      "axis": {
        "values": [700,710,720,730,740,750,760,770,780,790,800,810,820,830,840,850,860,870,880,890,900,910,920,930,940,950,960,970,980,990,1000,1010,1020,1030,1040,1050,1060,1070,1080,1090,1100,1110,1120,1130,1140,1150,1160,1170,1180,1190,1200,1210,1220,1230,1240,1250,1260,1270,1280,1290,1300,1310,1320,1330,1340,1350,1360,1370,1380,1390,1400],
        "format": "d",
        "grid": true,
        "gridColor": {"condition": {"test": "datum.value % 100 === 0", "value": "#8c8c8c"}, "value": "#c3c3c3"},
        "gridWidth": {"condition": {"test": "datum.value % 100 === 0", "value": 2}, "value": 1.6},
        "domainColor": "#8c8c8c", "domainWidth": 2,
        "ticks": false,
        "labelExpr": "datum.value % 100 === 0 ? datum.label : ''",
        "labelFont": "Lato", "labelFontSize": 21, "labelFontWeight": "bold", "labelColor": "#1e8c3c",
        "labelPadding": 18, "labelOverlap": false, "labelFlush": false,
        "title": "¹⁴C 年代 (yrBP)", "titleFont": "Lato", "titleFontSize": 23, "titleFontWeight": "bold",
        "titleColor": "#1e8c3c", "titlePadding": 20, "titleY": 381
      }
    }
  },
  "layer": [
    {
      "data": {"name": "curve"},
      "transform": [{"fold": ["hi", "lo"], "as": ["b", "y"]}],
      "mark": {"type": "line", "strokeWidth": 8, "interpolate": "monotone", "strokeCap": "round"},
      "encoding": {
        "detail": {"field": "b", "type": "nominal"},
        "stroke": {"datum": "IntCal20較正曲線", "type": "nominal", "scale": {"range": ["#000000"]},
          "legend": {"orient": "none", "legendX": 742, "legendY": 36, "title": null, "symbolType": "stroke",
            "symbolSize": 1300, "symbolStrokeWidth": 7, "labelFont": "Liberation Mono, Noto Sans CJK JP",
            "labelFontSize": 22, "labelColor": "#222222", "labelOffset": 12, "labelLimit": 400, "padding": 0, "zindex": 3}
        },
        "strokeDash": {"datum": "note", "type": "nominal", "scale": {"range": [[1, 0]]},
          "legend": {"orient": "none", "legendX": 238, "legendY": 28,
            "title": ["※各測定試料の¹⁴C年代値（縦軸）は", "±15〜25年程度（上下に1目盛り分", "程度）の誤差を持つ（図示せず）。"],
            "titleFont": "Noto Sans CJK JP", "titleFontSize": 22, "titleFontWeight": "normal", "titleColor": "#111111",
            "titleLineHeight": 29.5, "titleLimit": 800, "titlePadding": 0,
            "labelExpr": "''", "labelFontSize": 1, "labelOpacity": 0, "symbolSize": 1, "symbolOpacity": 0, "symbolStrokeWidth": 0,
            "padding": 10, "strokeColor": "#111111", "fillColor": "#ffffff", "zindex": 1}
        },
        "opacity": {"datum": "note2", "type": "nominal", "scale": {"range": [1, 1]},
          "legend": {"orient": "none", "legendX": 37, "legendY": 509,
            "title": ["各データのSet No.-Division No.", "QL:1-8,10 UB:2-2〜4 WK:3-1,2", "USIAMS:8-3 Galimberti:59-1", "MAMS:60-6 AAR:62-4,5,6,8", "Pearson:68-7,8", "ETH:69-2,8,12,13,32〜34,36〜45,47", "Sakamoto(PLD):65-6,8", "Sakamoto(IAAA):65-7,9"],
            "titleFont": "Liberation Mono, Noto Sans CJK JP", "titleFontSize": 18, "titleFontWeight": "normal", "titleColor": "#111111",
            "titleLineHeight": 26.6, "titleLimit": 800, "titlePadding": 0,
            "labelExpr": "''", "labelFontSize": 1, "labelOpacity": 0, "symbolSize": 1, "symbolOpacity": 0, "symbolStrokeWidth": 0,
            "padding": 10, "strokeColor": "#111111", "fillColor": "#ffffff", "zindex": 1}
        }
      }
    },
    {
      "data": {"name": "pts"},
      "transform": [{"filter": {"field": "s", "oneOf": ["QL", "WK", "Galimberti", "MAMS", "Pearson"]}}],
      "mark": {"type": "point", "filled": true, "opacity": 1, "strokeWidth": 0, "size": 70},
      "encoding": {
        "color": {"field": "s", "type": "nominal",
          "scale": {
            "domain": ["QL","WK","Galimberti","MAMS","Pearson","Sakamoto(PLD)","Sakamoto(IAAA)"],
            "range": ["#20a64c","#1f72bf","#7e60a8","#e8e63a","#8cc642","#1f72bf","#e6161e"]
          },
          "legend": {
            "orient": "none", "legendX": 728, "legendY": 30,
            "title": [" ", "IntCal20を構成するデータ"],
            "titleFont": "Liberation Mono, Noto Sans CJK JP", "titleFontSize": 22, "titleFontWeight": "normal",
            "titleColor": "#222222", "titleLineHeight": 48, "titlePadding": 14, "titleLimit": 400,
            "rowPadding": 12,
            "labelFont": "Liberation Mono", "labelFontSize": 20, "labelColor": "#222222", "labelLimit": 300,
            "labelOffset": 9, "symbolOffset": 0, "symbolSize": 60, "symbolStrokeWidth": 0,
            "padding": 10, "strokeColor": "#111111", "fillColor": "#ffffff", "zindex": 1
          }
        },
        "shape": {"field": "s", "type": "nominal",
          "scale": {
            "domain": ["QL","WK","Galimberti","MAMS","Pearson","Sakamoto(PLD)","Sakamoto(IAAA)"],
            "range": ["circle","circle","circle","circle","circle","diamond","diamond"]
          }
        }
      }
    },
    {
      "data": {"name": "pts"},
      "transform": [{"filter": {"field": "s", "oneOf": ["UB", "UCIAMS", "AAR", "ETH"]}}],
      "mark": {"type": "point", "filled": true, "opacity": 1, "strokeWidth": 0, "size": 70, "shape": "circle"},
      "encoding": {
        "fill": {"field": "s", "type": "nominal",
          "scale": {
            "domain": ["UB","UCIAMS","_a","AAR","ETH"],
            "range": ["#9e3c3c","#5b4a8b","transparent","#f2b21f","#a5b9da"]
          },
          "legend": {
            "orient": "none", "legendX": 881, "legendY": 124, "title": null,
            "rowPadding": 12, "symbolType": "circle",
            "labelFont": "Liberation Mono", "labelFontSize": 20, "labelColor": "#222222", "labelLimit": 300,
            "labelOffset": 10, "symbolOffset": 0, "symbolSize": 60, "symbolStrokeWidth": 0,
            "labelExpr": "indexof(datum.label, '_') === 0 ? '' : datum.label",
            "padding": 0, "zindex": 2
          }
        }
      }
    },
    {
      "data": {"name": "pts"},
      "transform": [{"filter": {"field": "s", "oneOf": ["Sakamoto(PLD)", "Sakamoto(IAAA)"]}}],
      "mark": {"type": "point", "filled": true, "opacity": 1, "strokeWidth": 0, "size": 130},
      "encoding": {
        "color": {"field": "s", "type": "nominal"},
        "shape": {"field": "s", "type": "nominal"}
      }
    }
  ],
  "config": {
    "view": {"stroke": null},
    "legend": {"strokeWidth": 3}
  }
}
